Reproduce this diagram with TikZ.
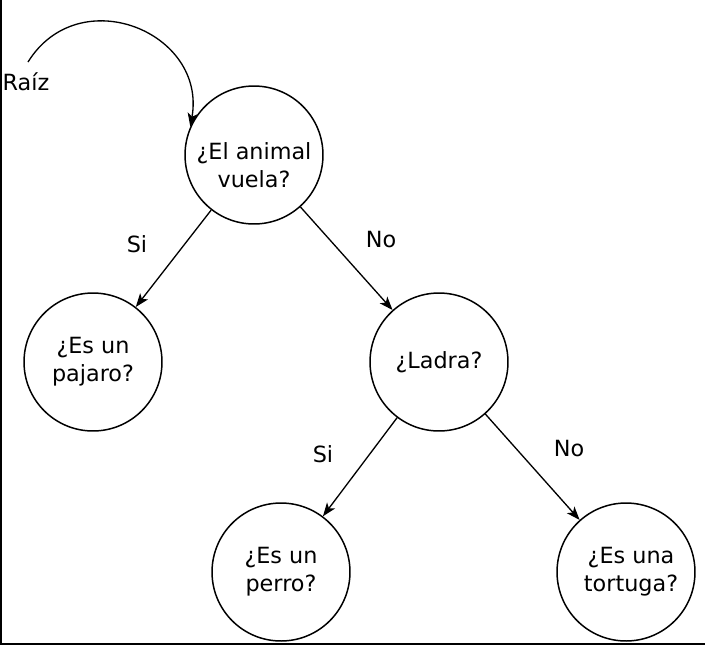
\documentclass[tikz,border=0pt]{standalone}
\usepackage{fontspec}
\setmainfont{DejaVu Sans}
\usetikzlibrary{arrows.meta}
\begin{document}
\begin{tikzpicture}[x=0.02cm,y=-0.02cm,
  every node/.style={font=\fontsize{12.7}{15.9}\selectfont},
  q/.style={circle,draw,line width=0.85pt,minimum size=2.76cm,inner sep=0pt,align=center},
  qtxt/.style={align=center,inner sep=0pt},
  lbl/.style={inner sep=0pt},
  arr/.style={line width=0.75pt,-{Stealth[length=0.27cm,width=0.2cm,inset=0.07cm]}},
  frame/.style={line width=1.3pt}]
\useasboundingbox (0,0) rectangle (705,646);
\coordinate (tl) at (1,0);
\coordinate (bl) at (1,644);
\coordinate (br) at (705,644);
\draw[frame] (tl) -- (bl) -- (br);
\node[q,label={[qtxt,yshift=-0.2cm]center:¿El animal\\vuela?}] (root) at (254,155) {};
\node[q] (paj) at (93,362) {¿Es un\\pajaro?};
\node[q] (lad) at (439,362) {¿Ladra?};
\node[q] (per) at (281,572) {¿Es un\\perro?};
\node[q,label={[qtxt,xshift=0.1cm]center:¿Es una\\tortuga?}] (tor) at (626,572) {};
\node[lbl] (raiz) at (26,82) {Raíz};
\coordinate (rstart) at (28,62);
\draw[arr] (rstart) .. controls (79,-20) and (207,32) .. (root.156);
\draw[arr] (root) -- (paj);
\draw[arr] (root) -- (lad);
\draw[arr] (lad) -- (per);
\draw[arr] (lad) -- (tor);
\node[lbl] (s1) at (137,244) {Si};
\node[lbl] (n1) at (381,240) {No};
\node[lbl] (s2) at (323,454) {Si};
\node[lbl] (n2) at (569,449) {No};
\end{tikzpicture}
\end{document}
